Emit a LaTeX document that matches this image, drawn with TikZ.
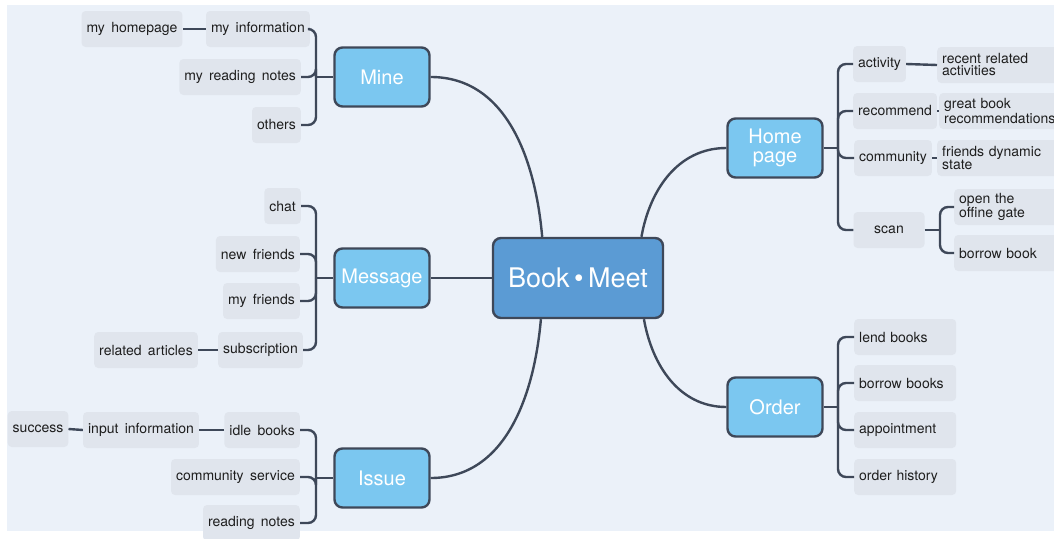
\documentclass[tikz,border=0pt]{standalone}
\usepackage{fontspec}
\setmainfont{TeX Gyre Heros}
\usetikzlibrary{calc}

\definecolor{pagebg}{HTML}{EBF1F9}
\definecolor{linegrey}{HTML}{3E4859}
\definecolor{rootblue}{HTML}{5B9BD4}
\definecolor{topicblue}{HTML}{7BC7F0}
\definecolor{leafgrey}{HTML}{E0E5ED}
\definecolor{leaftext}{HTML}{1E1E1E}

\newcommand{\leaffont}{\fontsize{14}{12}\selectfont\spaceskip=0.45em\relax}

\begin{document}
\begin{tikzpicture}[x=1pt, y=1pt,
    conn/.style={line width=2.4pt, draw=linegrey, rounded corners=8pt},
    rootbox/.style={draw=linegrey, line width=2.4pt, fill=rootblue, rounded corners=8pt,
        minimum width=170, minimum height=80, text=white, font=\fontsize{27}{27}\selectfont},
    topicbox/.style={draw=linegrey, line width=2.4pt, fill=topicblue, rounded corners=8pt,
        minimum width=95, minimum height=59, inner sep=2pt, align=center, text=white,
        font=\fontsize{20}{19}\selectfont},
    leafbox/.style={fill=leafgrey, rounded corners=4pt, minimum height=36, inner xsep=5pt,
        text=leaftext, font=\leaffont}]

    % page and background
    \fill[white] (0,0) rectangle (1054,-538);
    \fill[pagebg] (7,-5) rectangle (1054,-531);
    \useasboundingbox (0,0) rectangle (1054,-538);

    % centre and main topics
    \node[rootbox] (bookmeet) at (578,-278) {Book\,\textbullet\,Meet};
    \node[topicbox] (mine) at (382,-77) {Mine};
    \node[topicbox] (message) at (382,-278) {Message};
    \node[topicbox] (issue) at (382,-478) {Issue};
    \node[topicbox] (homepage) at (775,-148) {Home\\page};
    \node[topicbox] (order) at (775,-407) {Order};

    \draw[conn] (bookmeet.131) to[out=95, in=0] (mine.east);
    \draw[conn] (bookmeet.west) -- (message.east);
    \draw[conn] (bookmeet.228) to[out=-95, in=0] (issue.east);
    \draw[conn] (bookmeet.33) to[out=80, in=180] (homepage.west);
    \draw[conn] (bookmeet.328) to[out=-80, in=180] (order.west);

    % Mine
    \node[leafbox, anchor=east] (myinfo) at (310,-29) {my information};
    \node[leafbox] (myhome) at (132,-29) {my homepage};
    \node[leafbox, anchor=east] (myreading) at (301,-77) {my reading notes};
    \node[leafbox, anchor=east] (others) at (301,-125) {others};
    \coordinate (jmine) at (316,-77);
    \draw[conn] (mine.west) -- (jmine);
    \foreach \n in {myinfo, myreading, others}
        \draw[conn] (jmine) |- (\n.east);
    \draw[conn] (myinfo.west) -- (myhome.east);

    % Message
    \node[leafbox, anchor=east] (chat) at (301,-206) {chat};
    \node[leafbox, anchor=east] (newfriends) at (300,-254) {new friends};
    \node[leafbox, anchor=east] (myfriends) at (300,-301) {my friends};
    \node[leafbox, anchor=east] (subscription) at (303,-350) {subscription};
    \node[leafbox] (related) at (146,-350) {related articles};
    \coordinate (jmessage) at (316,-278);
    \draw[conn] (message.west) -- (jmessage);
    \foreach \n in {chat, newfriends, myfriends, subscription}
        \draw[conn] (jmessage) |- (\n.east);
    \draw[conn] (subscription.west) -- (related.east);

    % Issue
    \node[leafbox, anchor=east] (idle) at (300,-430) {idle books};
    \node[leafbox, anchor=east] (community) at (300,-477) {community service};
    \node[leafbox, anchor=east] (readnotes) at (300,-523) {reading notes};
    \node[leafbox] (input) at (141,-430) {input information};
    \node[leafbox] (success) at (38,-429) {success};
    \coordinate (jissue) at (316,-478);
    \draw[conn] (issue.west) -- (jissue);
    \foreach \n in {idle, community, readnotes}
        \draw[conn] (jissue) |- (\n.east);
    \draw[conn] (idle.west) -- (input.east);
    \draw[conn] (input.west) -- (success.east);

    % Home page
    \node[leafbox, anchor=west] (activity) at (853,-64) {activity};
    \node[leafbox, anchor=west] (recommend) at (853,-111) {recommend};
    \node[leafbox, anchor=west] (communityhp) at (854,-158) {community};
    \node[leafbox, minimum width=71] (scan) at (889,-230) {scan};
    \node[leafbox, anchor=west, text width=112, align=left] (recent) at (937,-65) {recent related\\activities};
    \node[leafbox, anchor=west, text width=118, align=left] (greatbook) at (939,-111) {great book\\recommendations};
    \node[leafbox, anchor=west, text width=112, align=left] (friends) at (937,-158) {friends dynamic\\state};
    \node[leafbox, anchor=west, text width=100, align=left] (opengate) at (954,-207) {open the\\offine gate};
    \node[leafbox, anchor=west, text width=100, align=left] (borrowbook) at (954,-253) {borrow book};
    \coordinate (jhome) at (838,-148);
    \draw[conn] (homepage.east) -- (jhome);
    \foreach \n in {activity, recommend, communityhp, scan}
        \draw[conn] (jhome) |- (\n.west);
    \draw[conn] (activity.east) -- (recent.west);
    \draw[conn] (recommend.east) -- (greatbook.west);
    \draw[conn] (communityhp.east) -- (friends.west);
    \coordinate (jscan) at (940,-230);
    \draw[conn] (scan.east) -- (jscan);
    \foreach \n in {opengate, borrowbook}
        \draw[conn] (jscan) |- (\n.west);

    % Order
    \foreach \n/\y/\t in {lend/-337/lend books, borrow/-383/borrow books,
                          appoint/-430/appointment, history/-477/order history}
        \node[leafbox, anchor=west, text width=92, align=left] (\n) at (854,\y) {\t};
    \coordinate (jorder) at (838,-407);
    \draw[conn] (order.east) -- (jorder);
    \foreach \n in {lend, borrow, appoint, history}
        \draw[conn] (jorder) |- (\n.west);
\end{tikzpicture}
\end{document}
